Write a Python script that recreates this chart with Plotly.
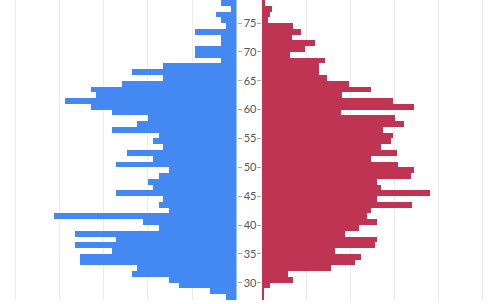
import plotly.graph_objects as go

# age bins [age, age+1), 27..78
ages = list(range(27, 79))

# share of left group (%) by age
left_pct = [0.24, 0.59, 1.29, 1.53, 2.35, 2.24, 3.53, 3.53, 2.82, 3.65,
            2.71, 3.65, 1.76, 2.12, 4.12, 1.53, 1.76, 1.65, 2.71, 1.88,
            2.00, 1.76, 1.53, 2.71, 1.88, 2.47, 1.65, 1.88, 1.76, 2.82,
            2.24, 2.00, 2.82, 3.29, 3.88, 3.18, 3.29, 2.59, 1.65, 2.35,
            1.65, 0.35, 0.94, 0.94, 0.35, 0.35, 0.94, 0.24, 0.35, 0.47,
            0.12, 0.35]

# share of right group (%) by age
right_pct = [0.03, 0.05, 0.18, 0.71, 0.58, 1.56, 2.10, 2.23, 1.65, 2.56,
             2.60, 1.88, 2.19, 2.60, 2.38, 2.46, 3.40, 2.60, 3.81, 2.69,
             2.60, 3.36, 3.45, 3.08, 2.46, 3.05, 2.69, 2.91, 2.96, 2.74,
             3.22, 3.00, 1.78, 3.45, 2.96, 1.80, 2.47, 1.97, 1.48, 1.30,
             1.30, 1.43, 0.63, 0.98, 1.21, 0.67, 0.88, 0.71, 0.14, 0.17,
             0.22, 0.07]

age_ticks = [30, 35, 40, 45, 50, 55, 60, 65, 70, 75]

BLUE = "#4489f2"
RED = "#bf3452"

fig = go.Figure()
fig.add_trace(go.Bar(y=ages, x=left_pct, orientation="h", width=1, offset=0,
                     marker=dict(color=BLUE, line=dict(width=0)),
                     xaxis="x", yaxis="y", showlegend=False))
fig.add_trace(go.Bar(y=ages, x=right_pct, orientation="h", width=1, offset=0,
                     marker=dict(color=RED, line=dict(width=0)),
                     xaxis="x2", yaxis="y2", showlegend=False))

grid = "#ebebeb"
fig.update_layout(
    width=500, height=304,
    margin=dict(l=0, r=0, t=0, b=4),
    paper_bgcolor="white", plot_bgcolor="white",
    bargap=0,
    xaxis=dict(domain=[0, 0.473], range=[5.34, 0], dtick=1, showgrid=True, gridcolor=grid,
               showticklabels=False, zeroline=False, showline=False, ticks=""),
    xaxis2=dict(domain=[0.524, 1], range=[0, 5.385], dtick=1, showgrid=True, gridcolor=grid,
                showticklabels=False, zeroline=False, showline=False, ticks=""),
    yaxis=dict(anchor="x", side="right", range=[27, 79], tickvals=age_ticks, ticks="outside",
               ticklen=4, tickcolor="#aaa", showgrid=False, zeroline=False, showline=False,
               tickfont=dict(family="Lato, Open Sans, sans-serif", size=11, color="#555")),
    yaxis2=dict(anchor="x2", side="left", matches="y", tickvals=age_ticks, ticks="outside",
                ticklen=4, tickcolor="#aaa", showticklabels=False, showgrid=False, zeroline=False,
                showline=False),
)

fig.write_html("out.html")
